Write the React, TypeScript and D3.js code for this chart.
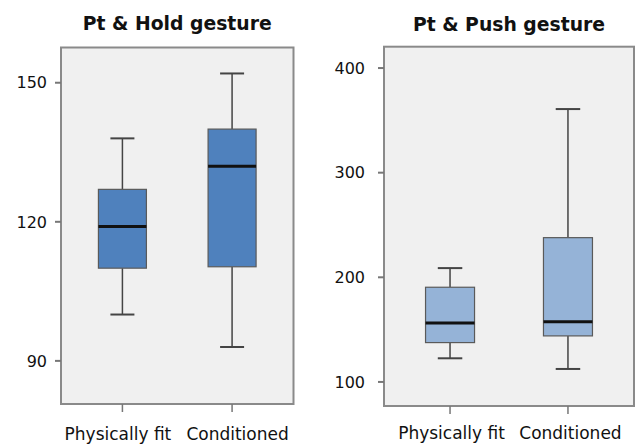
import React from "react";
import * as d3 from "d3";

const categories = ["Physically fit", "Conditioned"];

const holdTitle = "Pt & Hold gesture";
const holdTicks = [90, 120, 150];
const holdMin = [100, 93];
const holdQ1 = [110, 110.3];
const holdMedian = [119, 132];
const holdQ3 = [127, 140];
const holdMax = [138, 152];

const pushTitle = "Pt & Push gesture";
const pushTicks = [100, 200, 300, 400];
const pushMin = [122.6, 112.4];
const pushQ1 = [137.6, 144];
const pushMedian = [156.4, 157.6];
const pushQ3 = [190.5, 237.9];
const pushMax = [208.8, 360.8];

const FONT = "'DejaVu Sans', Verdana, sans-serif";

type PanelProps = {
  title: string;
  ticks: number[];
  mins: number[];
  q1s: number[];
  medians: number[];
  q3s: number[];
  maxs: number[];
  x0: number;
  x1: number;
  y0: number;
  y1: number;
  domain: [number, number];
  fill: string;
  boxW: number;
  labelGap: number;
  titleY: number;
  catDx: number[];
  catY: number;
};

function Panel(p: PanelProps) {
  const y = d3.scaleLinear().domain(p.domain).range([p.y1, p.y0]);
  const x = d3.scalePoint<string>().domain(categories).range([p.x0, p.x1]).padding(0.56);
  const cx = (p.x0 + p.x1) / 2;
  return (
    <g>
      <text x={cx} y={p.titleY} textAnchor="middle" fontFamily={FONT} fontWeight="bold" fontSize={18.8} fill="#111">
        {p.title}
      </text>
      <rect x={p.x0} y={p.y0} width={p.x1 - p.x0} height={p.y1 - p.y0} fill="#f0f0f0" stroke="#8a8a8a" strokeWidth={2} />
      {p.ticks.map((t) => (
        <g key={t}>
          <line x1={p.x0 - 6} x2={p.x0} y1={y(t)} y2={y(t)} stroke="#777" strokeWidth={2} />
          <text x={p.x0 - 6 - p.labelGap} y={y(t)} dy="0.36em" textAnchor="end" fontFamily={FONT} fontSize={16} fill="#111">
            {t}
          </text>
        </g>
      ))}
      {categories.map((c, i) => {
        const xc = x(c) as number;
        const hw = p.boxW / 2;
        const cw = p.boxW / 4;
        return (
          <g key={c}>
            <line x1={xc} x2={xc} y1={p.y1} y2={p.y1 + 8} stroke="#777" strokeWidth={1.5} />
            <text x={xc + p.catDx[i]} y={p.catY} textAnchor="middle" fontFamily={FONT} fontSize={17} fill="#111">
              {c}
            </text>
            <line x1={xc} x2={xc} y1={y(p.maxs[i])} y2={y(p.q3s[i])} stroke="#444" strokeWidth={1.5} />
            <line x1={xc} x2={xc} y1={y(p.q1s[i])} y2={y(p.mins[i])} stroke="#444" strokeWidth={1.5} />
            <line x1={xc - cw} x2={xc + cw} y1={y(p.maxs[i])} y2={y(p.maxs[i])} stroke="#444" strokeWidth={2} />
            <line x1={xc - cw} x2={xc + cw} y1={y(p.mins[i])} y2={y(p.mins[i])} stroke="#444" strokeWidth={2} />
            <rect
              x={xc - hw}
              y={y(p.q3s[i])}
              width={p.boxW}
              height={y(p.q1s[i]) - y(p.q3s[i])}
              fill={p.fill}
              stroke="#5a5a5a"
              strokeWidth={1.2}
            />
            <line x1={xc - hw} x2={xc + hw} y1={y(p.medians[i])} y2={y(p.medians[i])} stroke="#111" strokeWidth={3} />
          </g>
        );
      })}
    </g>
  );
}

export default function App() {
  return (
    <svg width={635} height={444} style={{ position: "absolute", left: 0, top: 0, background: "#fff" }}>
      <Panel
        title={holdTitle}
        ticks={holdTicks}
        mins={holdMin}
        q1s={holdQ1}
        medians={holdMedian}
        q3s={holdQ3}
        maxs={holdMax}
        x0={61}
        x1={293.5}
        y0={47.5}
        y1={404}
        domain={[80.7, 157.6]}
        fill="#4f81bd"
        boxW={48}
        labelGap={8}
        titleY={29.5}
        catDx={[-4.5, 5.5]}
        catY={440}
      />
      <Panel
        title={pushTitle}
        ticks={pushTicks}
        mins={pushMin}
        q1s={pushQ1}
        medians={pushMedian}
        q3s={pushQ3}
        maxs={pushMax}
        x0={384}
        x1={634}
        y0={46.7}
        y1={406}
        domain={[77, 420.4]}
        fill="#95b3d7"
        boxW={49}
        labelGap={13}
        titleY={30.5}
        catDx={[1.5, 2.5]}
        catY={438.5}
      />
    </svg>
  );
}
